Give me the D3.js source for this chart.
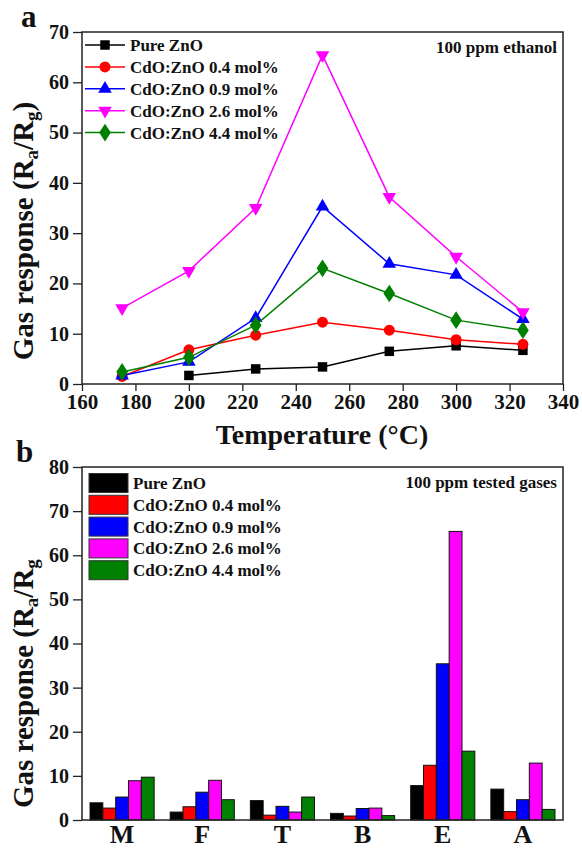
<!DOCTYPE html>
<html>
<head>
<meta charset="utf-8">
<script src="https://cdn.jsdelivr.net/npm/d3@7"></script>
<style>
  body { margin: 0; background: #fff; }
  text { font-family: "Liberation Serif", "Times New Roman", serif; font-weight: bold; fill: #111; }
</style>
</head>
<body>
<div id="chart"></div>
<script>
// series names and colours
var seriesNames = ["Pure ZnO", "CdO:ZnO 0.4 mol%", "CdO:ZnO 0.9 mol%", "CdO:ZnO 2.6 mol%", "CdO:ZnO 4.4 mol%"];
var seriesColors = ["#000000", "#ff0000", "#0000ff", "#ff00ff", "#008000"];
var markerTypes = ["square", "circle", "triangle", "triangleDown", "diamond"];

// panel a: response vs temperature (100 ppm ethanol)
var temperatures = [175, 200, 225, 250, 275, 300, 325];
var pureZnO = [null, 1.7, 3.0, 3.4, 6.5, 7.6, 6.7];
var cdo04 = [1.5, 6.8, 9.7, 12.3, 10.7, 8.8, 7.9];
var cdo09 = [1.7, 4.4, 13.1, 35.3, 23.9, 21.7, 12.9];
var cdo26 = [15.1, 22.5, 35.0, 65.4, 37.2, 25.3, 14.3];
var cdo44 = [2.4, 5.3, 11.7, 23.0, 18.0, 12.7, 10.7];
var tempSeries = [pureZnO, cdo04, cdo09, cdo26, cdo44];
var tempTicks = [160, 180, 200, 220, 240, 260, 280, 300, 320, 340];

// panel b: response to different gases (100 ppm)
var gases = ["M", "F", "T", "B", "E", "A"];
var gasPure = [3.9, 1.8, 4.4, 1.5, 7.8, 7.0];
var gas04 = [2.7, 3.0, 1.1, 0.9, 12.4, 1.9];
var gas09 = [5.2, 6.3, 3.1, 2.6, 35.4, 4.6];
var gas26 = [8.9, 9.0, 1.8, 2.7, 65.4, 12.9];
var gas44 = [9.7, 4.6, 5.2, 1.0, 15.6, 2.4];
var gasSeries = [gasPure, gas04, gas09, gas26, gas44];

var width = 582;
var height = 849;
var left = 82, right = 563;

var svg = d3.select("#chart").append("svg")
    .attr("width", width)
    .attr("height", height);

function drawFrame(top, bottom) {
    svg.append("rect")
        .attr("x", left)
        .attr("y", top)
        .attr("width", right - left)
        .attr("height", bottom - top)
        .attr("fill", "none")
        .attr("stroke", "#222")
        .attr("stroke-width", 1.5);
}

function yAxis(scale, maxVal) {
    var g = svg.append("g").attr("transform", "translate(" + left + ",0)");
    // minor ticks
    g.call(d3.axisLeft(scale).tickValues(d3.range(5, maxVal, 10)).tickSize(5).tickFormat(""));
    // major ticks
    g.call(d3.axisLeft(scale).tickValues(d3.range(0, maxVal + 1, 10)).tickSize(9).tickPadding(4));
    g.selectAll(".domain").remove();
    g.selectAll("line").attr("stroke", "#222").attr("stroke-width", 1.3);
    g.selectAll("text").attr("font-size", 20).style("fill", "#111");
    return g;
}

function yLabel(x, y, anchor, closeParen) {
    var t = svg.append("text")
        .attr("transform", "translate(" + x + "," + y + ") rotate(-90)")
        .attr("text-anchor", anchor)
        .attr("font-size", 29);
    t.append("tspan").text("Gas response (R");
    t.append("tspan").attr("font-size", 19).attr("dy", 5).text("a");
    t.append("tspan").attr("dy", -5).text("/R");
    t.append("tspan").attr("font-size", 19).attr("dy", 5).text("g");
    if (closeParen) {
        t.append("tspan").attr("dy", -5).text(")");
    }
}

// ---------- panel a ----------
var topA = 32, bottomA = 384;
var xA = d3.scaleLinear().domain([160, 340]).range([left, right]);
var yA = d3.scaleLinear().domain([0, 70]).range([bottomA, topA]);

var gx = svg.append("g").attr("transform", "translate(0," + bottomA + ")");
gx.call(d3.axisBottom(xA).tickValues(d3.range(170, 340, 20)).tickSize(4).tickFormat(""));
gx.call(d3.axisBottom(xA).tickValues(tempTicks).tickSize(7).tickPadding(3));
gx.selectAll(".domain").remove();
gx.selectAll("line").attr("stroke", "#222").attr("stroke-width", 1.3);
gx.selectAll("text").attr("font-size", 21).style("fill", "#111");

yAxis(yA, 70);
drawFrame(topA, bottomA);

var symbolMap = {
    square: d3.symbolSquare,
    circle: d3.symbolCircle,
    triangle: d3.symbolTriangle,
    triangleDown: d3.symbolTriangle,
    diamond: d3.symbolDiamond
};
var symbolSize = { square: 90, circle: 95, triangle: 80, triangleDown: 80, diamond: 90 };

function marker(g, type, color) {
    var p = g.append("path")
        .attr("d", d3.symbol().type(symbolMap[type]).size(symbolSize[type])())
        .attr("fill", color);
    if (type === "triangleDown") p.attr("transform", "rotate(180)");
    if (type === "diamond") p.attr("transform", "scale(1.15,1)");
    return p;
}

var line = d3.line()
    .defined(function(d) { return d.v !== null; })
    .x(function(d) { return xA(d.t); })
    .y(function(d) { return yA(d.v); });

tempSeries.forEach(function(vals, i) {
    var pts = temperatures.map(function(t, j) { return { t: t, v: vals[j] }; });
    svg.append("path")
        .datum(pts)
        .attr("d", line)
        .attr("fill", "none")
        .attr("stroke", seriesColors[i])
        .attr("stroke-width", 1.5);
    pts.forEach(function(d) {
        if (d.v === null) return;
        var g = svg.append("g").attr("transform", "translate(" + xA(d.t) + "," + yA(d.v) + ")");
        marker(g, markerTypes[i], seriesColors[i]);
    });
});

// legend a
seriesNames.forEach(function(name, i) {
    var y = 45 + i * 21.9;
    svg.append("line")
        .attr("x1", 85).attr("x2", 125)
        .attr("y1", y).attr("y2", y)
        .attr("stroke", seriesColors[i])
        .attr("stroke-width", 1.5);
    var g = svg.append("g").attr("transform", "translate(105," + y + ")");
    marker(g, markerTypes[i], seriesColors[i]);
    svg.append("text")
        .attr("x", 130)
        .attr("y", y + 6)
        .attr("font-size", 17)
        .text(name);
});

svg.append("text")
    .attr("x", 557)
    .attr("y", 53)
    .attr("text-anchor", "end")
    .attr("font-size", 17)
    .text("100 ppm ethanol");

svg.append("text")
    .attr("x", 322)
    .attr("y", 444)
    .attr("text-anchor", "middle")
    .attr("font-size", 28)
    .text("Temperature (°C)");

yLabel(33, 231, "middle", true);

svg.append("text").attr("x", 21).attr("y", 27).attr("font-size", 31).text("a");

// ---------- panel b ----------
var topB = 467, bottomB = 820;
var xB = d3.scaleBand().domain(gases).range([left, right]).paddingInner(0.2).paddingOuter(0.1);
var xInner = d3.scaleBand().domain(d3.range(seriesNames.length)).range([0, xB.bandwidth()]);
var yB = d3.scaleLinear().domain([0, 80]).range([bottomB, topB]);

gasSeries.forEach(function(vals, i) {
    svg.selectAll(".bar" + i)
        .data(gases)
        .enter()
        .append("rect")
        .attr("class", "bar" + i)
        .attr("x", function(d) { return xB(d) + xInner(i); })
        .attr("y", function(d, j) { return yB(vals[j]); })
        .attr("width", xInner.bandwidth())
        .attr("height", function(d, j) { return bottomB - yB(vals[j]); })
        .attr("fill", seriesColors[i])
        .attr("stroke", "#111")
        .attr("stroke-width", 1);
});

yAxis(yB, 80);
drawFrame(topB, bottomB);

var gxb = svg.append("g").attr("transform", "translate(0," + bottomB + ")");
gxb.call(d3.axisBottom(xB).tickSize(0).tickPadding(5));
gxb.selectAll(".domain").remove();
gxb.selectAll("text").attr("font-size", 26).style("fill", "#111");

// legend b
seriesNames.forEach(function(name, i) {
    var y = 483 + i * 21.8;
    svg.append("rect")
        .attr("x", 89).attr("y", y - 9.5)
        .attr("width", 39).attr("height", 19)
        .attr("fill", seriesColors[i])
        .attr("stroke", "#333")
        .attr("stroke-width", 1);
    svg.append("text")
        .attr("x", 133)
        .attr("y", y + 6)
        .attr("font-size", 17)
        .text(name);
});

svg.append("text")
    .attr("x", 557)
    .attr("y", 488)
    .attr("text-anchor", "end")
    .attr("font-size", 17)
    .text("100 ppm tested gases");

yLabel(33, 808, "start", false);

svg.append("text").attr("x", 16).attr("y", 462).attr("font-size", 31).text("b");
</script>
</body>
</html>
